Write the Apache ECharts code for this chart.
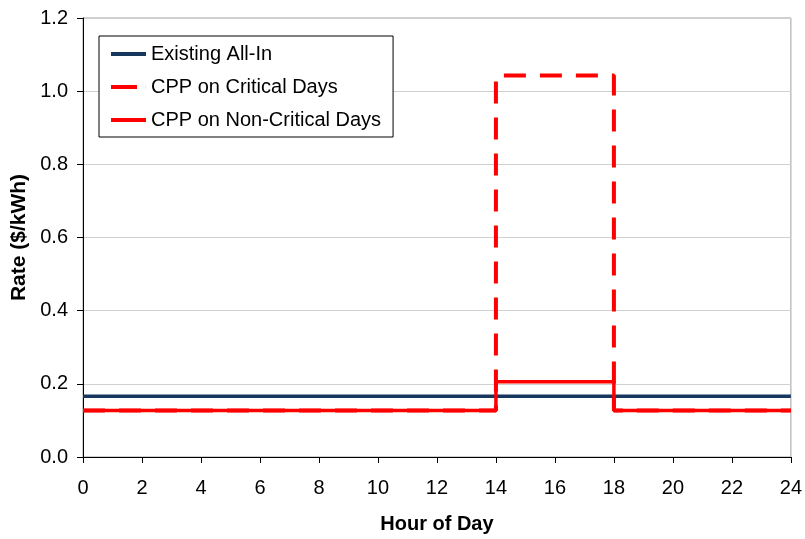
<!DOCTYPE html>
<html>
<head>
<meta charset="utf-8">
<script src="https://cdn.jsdelivr.net/npm/echarts@6/dist/echarts.min.js"></script>
<style>html,body{margin:0;padding:0;background:#fff;}#c{width:805px;height:539px;}</style>
</head>
<body>
<div id="c"></div>
<script>
// Breakpoints of the hourly rate schedules (step lines)
const hours = [0, 14, 18, 24];
const existingAllIn = [0.166, 0.166, 0.166, 0.166];
const cppCritical = [0.127, 1.043, 0.127, 0.127];
const cppNonCritical = [0.127, 0.206, 0.127, 0.127];
const seriesNames = ['Existing All-In', 'CPP on Critical Days', 'CPP on Non-Critical Days'];

function pairs(vals) { return hours.map((h, i) => [h, vals[i]]); }

const font = 'Liberation Sans, Arial, sans-serif';
const solidIcon = 'path://M0,0h35v4h-35z';
const dashIcon = 'path://M0,0h26v4h-26z M34.9,0h0.1v4h-0.1z';
const chart = echarts.init(document.getElementById('c'));
chart.setOption({
  animation: false,
  backgroundColor: '#fff',
  grid: { left: 83, right: 12, top: 18, bottom: 81, show: true, borderColor: '#a0a0a0', borderWidth: 1 },
  legend: {
    orient: 'vertical', left: 99, top: 36, padding: [8, 12, 7, 12],
    itemGap: 13, itemWidth: 35, itemHeight: 4, symbolKeepAspect: false,
    borderColor: '#000', borderWidth: 1, backgroundColor: '#fff',
    textStyle: { fontFamily: font, fontSize: 20, color: '#000' },
    data: [
      { name: seriesNames[0], icon: solidIcon, itemStyle: { color: '#17375e' } },
      { name: seriesNames[1], icon: dashIcon, itemStyle: { color: '#ff0000' } },
      { name: seriesNames[2], icon: solidIcon, itemStyle: { color: '#ff0000' } }
    ]
  },
  xAxis: {
    type: 'value', min: 0, max: 24, interval: 2,
    name: 'Hour of Day', nameLocation: 'middle', nameGap: 57,
    nameTextStyle: { fontFamily: font, fontSize: 20, fontWeight: 'bold', color: '#000' },
    axisLine: { lineStyle: { color: '#000', width: 1 } },
    axisTick: { show: true, length: 6, lineStyle: { color: '#000' } },
    axisLabel: { fontFamily: font, fontSize: 20, color: '#000', margin: 21 },
    splitLine: { show: false }
  },
  yAxis: {
    type: 'value', min: 0, max: 1.2, interval: 0.2,
    name: 'Rate ($/kWh)', nameLocation: 'middle', nameGap: 50, nameRotate: 90,
    nameTextStyle: { fontFamily: font, fontSize: 21, fontWeight: 'bold', color: '#000' },
    axisLine: { show: true, lineStyle: { color: '#000', width: 1 } },
    axisTick: { show: true, length: 6, lineStyle: { color: '#000' } },
    axisLabel: { fontFamily: font, fontSize: 20, color: '#000', margin: 15, formatter: v => v.toFixed(1) },
    splitLine: { show: true, lineStyle: { color: '#d0d0d0', width: 1 } }
  },
  series: [
    { name: seriesNames[0], type: 'line', step: 'end', symbol: 'none', data: pairs(existingAllIn),
      color: '#17375e', lineStyle: { color: '#17375e', width: 3.5 }, z: 2 },
    { name: seriesNames[1], type: 'line', step: 'end', symbol: 'none', data: pairs(cppCritical),
      color: '#ff0000', lineStyle: { color: '#ff0000', width: 4, type: [22, 14] }, z: 3 },
    { name: seriesNames[2], type: 'line', step: 'end', symbol: 'none', data: pairs(cppNonCritical),
      color: '#ff0000', lineStyle: { color: '#ff0000', width: 3.5 }, z: 4 }
  ]
});
</script>
</body>
</html>
